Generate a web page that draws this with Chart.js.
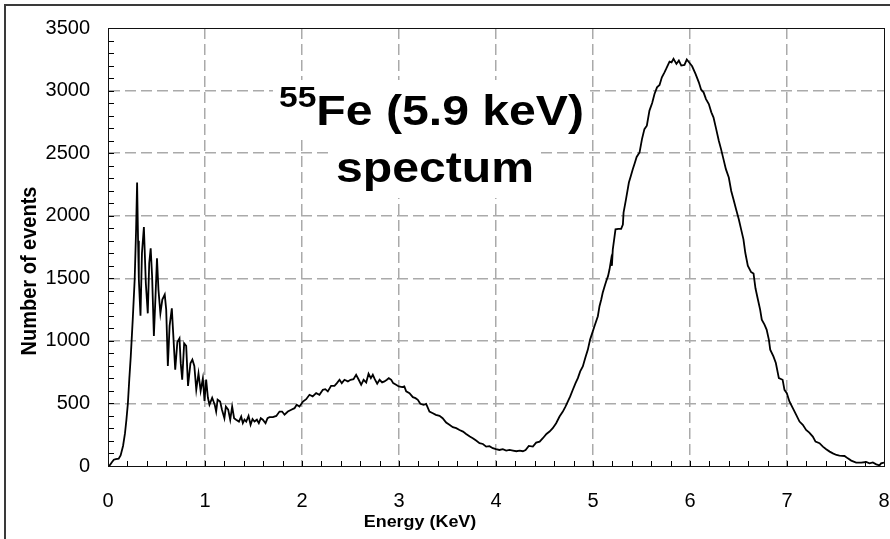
<!DOCTYPE html>
<html>
<head>
<meta charset="utf-8">
<script src="https://cdn.jsdelivr.net/npm/chart.js@4.4.1/dist/chart.umd.min.js"></script>
<style>
    html, body { margin: 0; padding: 0; background: #fff; }
    canvas { display: block; }
</style>
</head>
<body>
<canvas id="spectrumChart" width="890" height="539"></canvas>
<script>
// energy (keV) and counts
const energy = [
    0.00, 0.02, 0.04, 0.06, 0.08, 0.11, 0.13, 0.155, 0.175, 0.19, 0.205, 0.22, 0.235, 0.255, 0.275, 0.29, 0.30,
    0.31, 0.318, 0.335, 0.35, 0.37, 0.39, 0.41, 0.425, 0.44, 0.455, 0.473, 0.49, 0.505, 0.52, 0.54, 0.56, 0.585,
    0.60, 0.617, 0.635, 0.658, 0.67, 0.693, 0.715, 0.737, 0.75, 0.765, 0.785, 0.806, 0.825, 0.85, 0.87, 0.89,
    0.91, 0.933, 0.955, 0.978, 0.995, 1.012, 1.03, 1.046, 1.074, 1.10, 1.115, 1.13, 1.156, 1.175, 1.20, 1.215,
    1.239, 1.26, 1.28, 1.30, 1.321, 1.35, 1.373, 1.39, 1.407, 1.425, 1.449, 1.47, 1.49, 1.51, 1.535, 1.555,
    1.575, 1.596, 1.624, 1.645, 1.665, 1.70, 1.735, 1.768, 1.795, 1.82, 1.854, 1.89, 1.923, 1.945, 1.974,
    2.01, 2.043, 2.077, 2.11, 2.146, 2.18, 2.215, 2.24, 2.266, 2.30, 2.335, 2.36, 2.387, 2.41, 2.438, 2.473,
    2.50, 2.531, 2.558, 2.585, 2.61, 2.635, 2.662, 2.686, 2.71, 2.73, 2.75, 2.775, 2.80, 2.826, 2.85, 2.875,
    2.895, 2.92, 2.94, 2.97, 2.998, 3.033, 3.055, 3.074, 3.108, 3.143, 3.17, 3.194, 3.22, 3.253, 3.28, 3.314,
    3.349, 3.38, 3.418, 3.45, 3.486, 3.52, 3.555, 3.59, 3.624, 3.66, 3.692, 3.73, 3.761, 3.795, 3.83, 3.865,
    3.899, 3.933, 3.967, 4.0, 4.035, 4.07, 4.105, 4.14, 4.175, 4.21, 4.245, 4.277, 4.305, 4.338, 4.38, 4.414,
    4.45, 4.483, 4.52, 4.552, 4.585, 4.62, 4.655, 4.689, 4.716, 4.74, 4.765, 4.792, 4.82, 4.844, 4.868, 4.895,
    4.92, 4.947, 4.97, 4.998, 5.015, 5.05, 5.067, 5.085, 5.10, 5.12, 5.136, 5.155, 5.17, 5.187, 5.195, 5.204,
    5.232, 5.26, 5.29, 5.308, 5.315, 5.34, 5.37, 5.39, 5.41, 5.43, 5.45, 5.48, 5.505, 5.53, 5.555, 5.582,
    5.61, 5.634, 5.66, 5.686, 5.71, 5.737, 5.754, 5.789, 5.81, 5.83, 5.86, 5.885, 5.91, 5.943, 5.967, 5.99,
    6.022, 6.057, 6.091, 6.115, 6.14, 6.165, 6.194, 6.22, 6.242, 6.27, 6.297, 6.32, 6.345, 6.37, 6.40, 6.425,
    6.448, 6.475, 6.503, 6.527, 6.551, 6.57, 6.596, 6.63, 6.655, 6.675, 6.70, 6.723, 6.74, 6.768, 6.79, 6.813,
    6.827, 6.86, 6.885, 6.916, 6.955, 6.974, 6.998, 7.025, 7.06, 7.095, 7.129, 7.163, 7.197, 7.23, 7.266,
    7.294, 7.335, 7.37, 7.404, 7.44, 7.473, 7.51, 7.541, 7.593, 7.627, 7.662, 7.713, 7.765, 7.816, 7.85,
    7.885, 7.92, 7.954, 7.97, 8.0
];
const counts = [
    0, 8, 30, 50, 55, 58, 85, 160, 260, 370, 500, 700, 880, 1170, 1490, 1900, 2265,
    1800, 1490, 1200, 1700, 1910, 1460, 1220, 1620, 1740, 1510, 1040, 1360, 1660, 1410, 1220, 1330, 1370,
    1250, 800, 1120, 1260, 1090, 770, 990, 1020, 820, 690, 980, 960, 640, 820, 850, 800,
    610, 740, 600, 700, 520, 690, 545, 490, 545, 490, 435, 530, 515, 450, 382, 475,
    450, 370, 475, 382, 370, 355, 395, 342, 370, 355, 400, 330, 375, 355, 370, 342,
    382, 370, 342, 382, 390, 390, 400, 435, 435, 410, 435, 450, 462, 490, 475,
    515, 534, 569, 556, 582, 569, 609, 614, 596, 641, 641, 662, 689, 662, 689, 676,
    689, 694, 729, 689, 649, 689, 668, 737, 702, 729, 694, 657, 689, 668, 676, 689,
    702, 689, 662, 649, 636, 630, 636, 596, 582, 550, 542, 529, 497, 489, 497, 435,
    422, 409, 401, 382, 347, 329, 310, 302, 288, 275, 256, 235, 222, 203, 182, 176,
    155, 158, 142, 134, 128, 134, 123, 128, 123, 118, 123, 118, 128, 160, 155, 187,
    195, 222, 256, 275, 302, 342, 395, 435, 475, 515, 556, 609, 662, 702, 756, 796,
    863, 930, 1010, 1076, 1117, 1197, 1277, 1330, 1384, 1437, 1477, 1517, 1570, 1650, 1600, 1730,
    1891, 1895, 1895, 1930, 2024, 2131, 2265, 2318, 2372, 2420, 2470, 2505, 2612, 2692, 2719, 2840,
    2900, 2973, 3026, 3045, 3106, 3146, 3173, 3232, 3226, 3253, 3213, 3240, 3200, 3205, 3248, 3226,
    3194, 3133, 3066, 3007, 2986, 2932, 2892, 2826, 2786, 2692, 2599, 2532, 2452, 2372, 2305, 2198,
    2131, 2051, 1971, 1891, 1811, 1704, 1600, 1549, 1538, 1420, 1330, 1250, 1170, 1130, 1090, 1010,
    930, 876, 823, 702, 689, 609, 582, 516, 462, 409, 355, 329, 288, 267, 235,
    195, 182, 155, 134, 115, 101, 88, 83, 80, 61, 43, 27, 27, 32, 21,
    29, 13, 5, 21, 27
];
const xTicks = [0, 1, 2, 3, 4, 5, 6, 7, 8];
const yTicks = [0, 500, 1000, 1500, 2000, 2500, 3000, 3500];
const xMinorStep = 0.2;
const yMinorStep = 100;

const titleMain = 'Fe (5.9 keV)';
const titleSup = '55';
const titleLine2 = 'spectum';
const xTitle = 'Energy (KeV)';
const yTitle = 'Number of events';

const gridColor = '#aaaaaa';
const STRETCH = 1.12; // the source picture is a bit wider than tall
const FONT = '"Liberation Sans", Arial, sans-serif';

function edgeAware(first, last) {
    return (c) => {
        const v = c.tick ? c.tick.value : null;
        return (v === first || v === last) ? 'rgba(0,0,0,0)' : gridColor;
    };
}

// draws stretched text with its own white backing, like the excel text box
function boxedText(ctx, text, x, y, font, align) {
    ctx.save();
    ctx.font = font;
    const w = ctx.measureText(text).width * STRETCH;
    const left = align === 'center' ? x - w / 2 : x;
    ctx.translate(x, y);
    ctx.scale(STRETCH, 1);
    ctx.textAlign = align;
    ctx.fillStyle = '#000';
    ctx.fillText(text, 0, 0);
    ctx.restore();
    return { left, width: w };
}

const chartDecor = {
    id: 'chartDecor',
    beforeDraw(chart) {
        const ctx = chart.ctx;
        ctx.save();
        ctx.fillStyle = '#fff';
        ctx.fillRect(0, 0, chart.width, chart.height);
        ctx.strokeStyle = '#3a3a3a';
        ctx.lineWidth = 2;
        ctx.strokeRect(5, 5, chart.width + 20, chart.height + 20);
        ctx.restore();
    },
    afterDatasetsDraw(chart) {
        const ctx = chart.ctx;
        const area = chart.chartArea;
        const xs = chart.scales.x;
        const ys = chart.scales.y;
        ctx.save();
        ctx.strokeStyle = '#000';
        ctx.lineWidth = 1;
        ctx.beginPath();
        for (let v = xs.min; v <= xs.max + 1e-9; v += xMinorStep) {
            const px = Math.round(xs.getPixelForValue(v)) + 0.5;
            ctx.moveTo(px, area.bottom);
            ctx.lineTo(px, area.bottom - 5);
        }
        for (let v = ys.min; v <= ys.max + 1e-9; v += yMinorStep) {
            const py = Math.round(ys.getPixelForValue(v)) + 0.5;
            ctx.moveTo(area.left, py);
            ctx.lineTo(area.left + 6, py);
        }
        ctx.stroke();
        ctx.strokeStyle = '#111';
        ctx.strokeRect(Math.round(area.left) + 0.5, Math.round(area.top) + 0.5,
            Math.round(area.right - area.left), Math.round(area.bottom - area.top));

        // title: white backing per line, then the text
        const mainFont = 'bold 43px ' + FONT;
        const supFont = 'bold 30px ' + FONT;
        ctx.font = mainFont;
        const mainW = ctx.measureText(titleMain).width * STRETCH;
        const line2W = ctx.measureText(titleLine2).width * STRETCH;
        ctx.font = supFont;
        const supW = ctx.measureText(titleSup).width * STRETCH;
        const startX = 431.5 - (mainW + supW) / 2;
        ctx.fillStyle = '#fff';
        ctx.fillRect(startX - 6, 80, mainW + supW + 12, 55);
        ctx.fillRect(435 - line2W / 2 - 6, 140, line2W + 12, 58);
        boxedText(ctx, titleSup, startX, 107, supFont, 'left');
        boxedText(ctx, titleMain, startX + supW, 125, mainFont, 'left');
        boxedText(ctx, titleLine2, 435, 182, mainFont, 'center');

        // axis titles
        boxedText(ctx, xTitle, 420, 527, 'bold 16px ' + FONT, 'center');
        ctx.save();
        ctx.translate(36, 271);
        ctx.rotate(-Math.PI / 2);
        ctx.scale(1, STRETCH);
        ctx.font = 'bold 20px ' + FONT;
        ctx.textAlign = 'center';
        ctx.fillStyle = '#000';
        ctx.fillText(yTitle, 0, 0);
        ctx.restore();
        ctx.restore();
    }
};

const tickFont = { family: FONT, size: 20 };

new Chart(document.getElementById('spectrumChart'), {
    type: 'line',
    data: {
        datasets: [{
            data: energy.map((e, i) => ({ x: e, y: counts[i] })),
            borderColor: '#000',
            borderWidth: 1.8,
            pointRadius: 0,
            fill: false,
            tension: 0
        }]
    },
    options: {
        responsive: false,
        animation: false,
        devicePixelRatio: 1,
        layout: { padding: { top: 28, right: 6, left: 0, bottom: 0 } },
        plugins: {
            legend: { display: false },
            tooltip: { enabled: false },
            title: { display: false }
        },
        scales: {
            x: {
                type: 'linear',
                min: 0,
                max: 8,
                afterBuildTicks: (scale) => { scale.ticks = xTicks.map(v => ({ value: v })); },
                afterFit: (scale) => {
                    scale.height = 539 - 466;
                    scale.paddingLeft = 0;
                    scale.paddingRight = 0;
                },
                ticks: {
                    padding: 23,
                    color: '#000',
                    font: tickFont,
                    maxRotation: 0,
                    autoSkip: false,
                    callback: (v) => String(v)
                },
                grid: { color: edgeAware(0, 8), lineWidth: 1.5, drawTicks: false },
                border: { display: true, color: '#000', width: 1, dash: [11, 5] }
            },
            y: {
                type: 'linear',
                min: 0,
                max: 3500,
                afterBuildTicks: (scale) => { scale.ticks = yTicks.map(v => ({ value: v })); },
                afterFit: (scale) => {
                    scale.width = 108;
                    scale.paddingTop = 0;
                    scale.paddingBottom = 0;
                },
                ticks: {
                    padding: 18,
                    color: '#000',
                    font: tickFont,
                    autoSkip: false,
                    callback: (v) => String(v)
                },
                grid: { color: edgeAware(0, 3500), lineWidth: 1.5, drawTicks: false },
                border: { display: true, color: '#000', width: 1, dash: [11, 5] }
            }
        }
    },
    plugins: [chartDecor]
});
</script>
</body>
</html>
